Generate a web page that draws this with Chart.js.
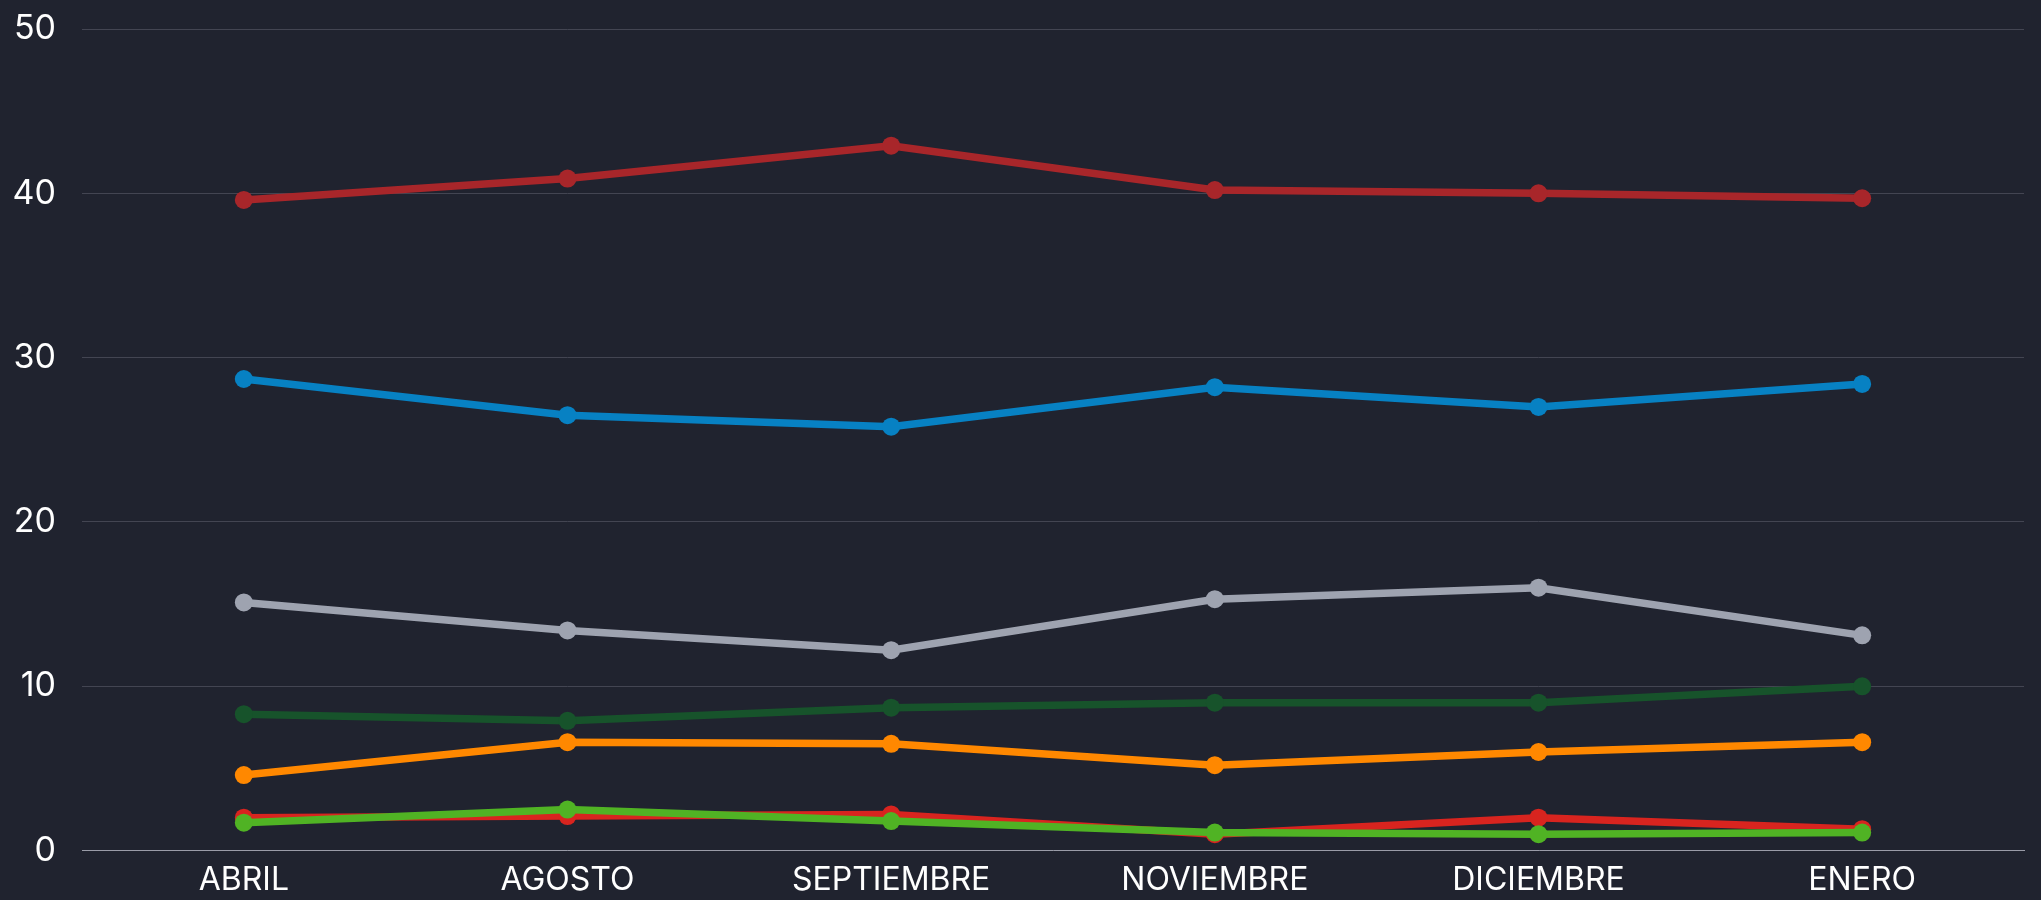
<!DOCTYPE html>
<html lang="es">
<head>
<meta charset="utf-8">
<title>Intención de voto</title>
<script src="https://cdn.jsdelivr.net/npm/chart.js@4.4.1/dist/chart.umd.min.js"></script>
<style>
    html, body {
        margin: 0;
        padding: 0;
        background: #20232f;
    }
    .chart-wrap {
        position: relative;
        width: 2041px;
        height: 900px;
    }
</style>
</head>
<body>
<div class="chart-wrap">
    <canvas id="trendChart"></canvas>
</div>
<script>
// Chart data
const months = ['ABRIL', 'AGOSTO', 'SEPTIEMBRE', 'NOVIEMBRE', 'DICIEMBRE', 'ENERO'];

const darkRedValues = [39.6, 40.9, 42.9, 40.2, 40.0, 39.7];
const blueValues = [28.7, 26.5, 25.8, 28.2, 27.0, 28.4];
const greyValues = [15.1, 13.4, 12.2, 15.3, 16.0, 13.1];
const darkGreenValues = [8.3, 7.9, 8.7, 9.0, 9.0, 10.0];
const orangeValues = [4.6, 6.6, 6.5, 5.2, 6.0, 6.6];
const redValues = [2.0, 2.1, 2.2, 1.0, 2.0, 1.3];
const lightGreenValues = [1.7, 2.5, 1.8, 1.1, 1.0, 1.1];

const yTicks = [0, 10, 20, 30, 40, 50];

class TrendPage {
    constructor() {
        this.initChart();
    }

    makeLine(values, color) {
        return {
            data: values,
            borderColor: color,
            backgroundColor: color,
            pointBackgroundColor: color,
            pointBorderWidth: 0,
            pointRadius: 9,
            borderWidth: 7.5,
            tension: 0,
            fill: false
        };
    }

    initChart() {
        // first dataset is drawn on top
        this.chart = new Chart(document.getElementById('trendChart'), {
            type: 'line',
            data: {
                labels: months,
                datasets: [
                    this.makeLine(darkRedValues, '#a8262a'),
                    this.makeLine(blueValues, '#0781c3'),
                    this.makeLine(greyValues, '#9ea3b0'),
                    this.makeLine(darkGreenValues, '#17532b'),
                    this.makeLine(orangeValues, '#ff8800'),
                    this.makeLine(lightGreenValues, '#50b324'),
                    this.makeLine(redValues, '#d8241f')
                ]
            },
            options: {
                responsive: true,
                maintainAspectRatio: false,
                animation: false,
                layout: {
                    padding: { top: 29, right: 17, bottom: -11, left: 12 }
                },
                plugins: {
                    legend: { display: false },
                    tooltip: { enabled: false }
                },
                scales: {
                    x: {
                        offset: true,
                        grid: { display: false, drawTicks: false },
                        border: { display: true, color: '#9a9ca8', width: 1 },
                        ticks: {
                            color: '#ffffff',
                            padding: 11,
                            font: { family: 'Inter', size: 32 }
                        }
                    },
                    y: {
                        min: 0,
                        max: 50,
                        afterBuildTicks: (axis) => {
                            axis.ticks = yTicks.map(v => ({ value: v }));
                        },
                        afterFit: (axis) => {
                            // fixed gutter, and no extra room for the top label
                            axis.width = 70;
                            axis.paddingTop = 0;
                            axis.paddingBottom = 0;
                        },
                        grid: { color: '#434552', lineWidth: 1, drawTicks: false },
                        border: { display: false },
                        ticks: {
                            color: '#ffffff',
                            padding: 26,
                            font: { family: 'Inter', size: 34 }
                        }
                    }
                }
            }
        });
    }
}

new TrendPage();
</script>
</body>
</html>
